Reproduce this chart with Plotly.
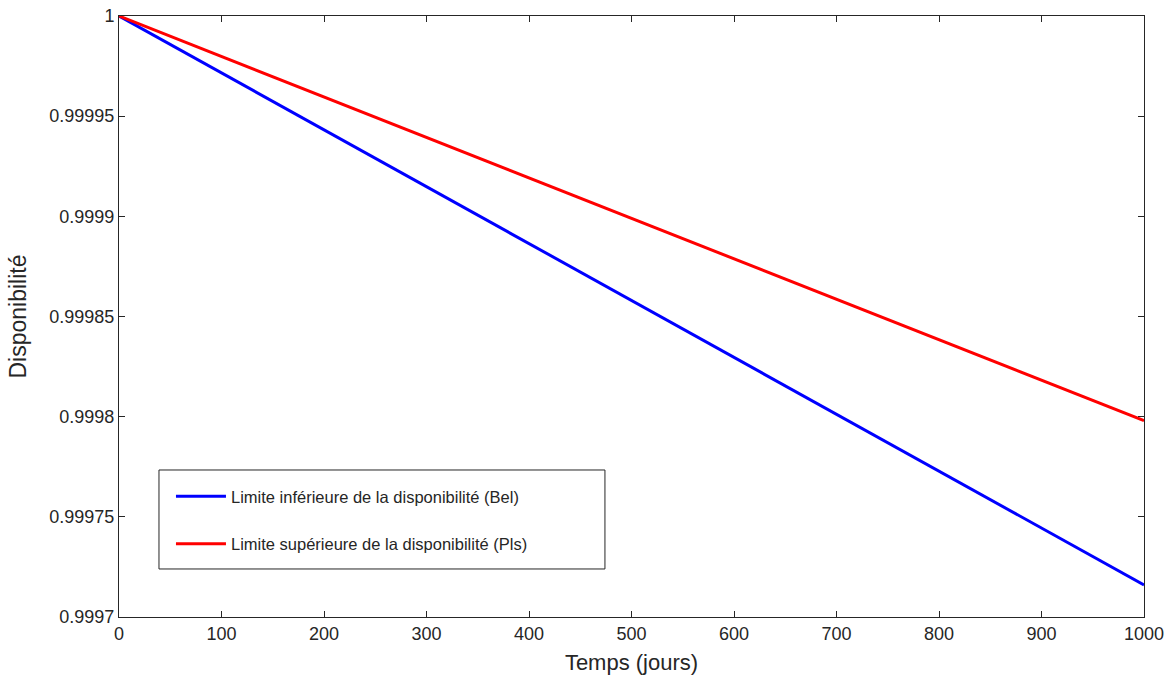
import plotly.graph_objects as go

temps = [0, 250, 500, 750, 1000]
bel = [1.0, 0.999929, 0.999858, 0.999787, 0.999716]
pls = [1.0, 0.9999495, 0.999899, 0.9998485, 0.999798]

y_tickvals = [0.9997, 0.99975, 0.9998, 0.99985, 0.9999, 0.99995, 1.0]
y_ticktext = ["0.9997", "0.99975", "0.9998", "0.99985", "0.9999", "0.99995", "1"]
x_tickvals = [0, 100, 200, 300, 400, 500, 600, 700, 800, 900, 1000]

font_family = "Liberation Sans, Arial, sans-serif"
axis_col = "#262626"

fig = go.Figure()
fig.add_trace(go.Scatter(x=temps, y=bel, mode="lines",
                         line=dict(color="#0000ff", width=3),
                         name="Limite inférieure de la disponibilité (Bel)",
                         legendgroup="a"))
fig.add_trace(go.Scatter(x=temps, y=pls, mode="lines",
                         line=dict(color="#ff0000", width=3),
                         name="Limite supérieure de la disponibilité (Pls)",
                         legendgroup="b"))

axis_common = dict(showgrid=False, zeroline=False, showline=True, mirror="ticks",
                   linecolor=axis_col, linewidth=1, ticks="inside", ticklen=6,
                   tickcolor=axis_col, automargin=False, ticklabeloverflow="allow",
                   tickfont=dict(size=18, color=axis_col, family=font_family))

# legend frame (MATLAB-style box, larger padding than Plotly's own)
fig.add_shape(type="rect", xref="paper", yref="paper",
              x0=0.039, x1=0.4741, y0=0.0799, y1=0.2446,
              line=dict(color=axis_col, width=1), fillcolor="white", layer="above")

fig.update_layout(
    width=1173, height=688,
    margin=dict(l=119, r=29, t=16, b=71),
    plot_bgcolor="white", paper_bgcolor="white",
    font=dict(family=font_family, color=axis_col),
    xaxis=dict(range=[0, 1000], tickvals=x_tickvals,
               title=dict(text="Temps (jours)", font=dict(size=22, color=axis_col), standoff=12),
               **axis_common),
    yaxis=dict(range=[0.9997, 1.0], tickvals=y_tickvals, ticktext=y_ticktext,
               title=dict(text="Disponibilité", font=dict(size=23, color=axis_col), standoff=16),
               **axis_common),
    legend=dict(x=0.0507, y=0.2296, xanchor="left", yanchor="top",
                bgcolor="rgba(0,0,0,0)", borderwidth=0,
                font=dict(size=16.5, color=axis_col, family=font_family),
                tracegroupgap=23, itemwidth=50),
    showlegend=True,
)

fig.write_html("out.html",
               config={"displayModeBar": False},
               post_script="document.body.style.margin='0';document.body.style.overflow='hidden';")
